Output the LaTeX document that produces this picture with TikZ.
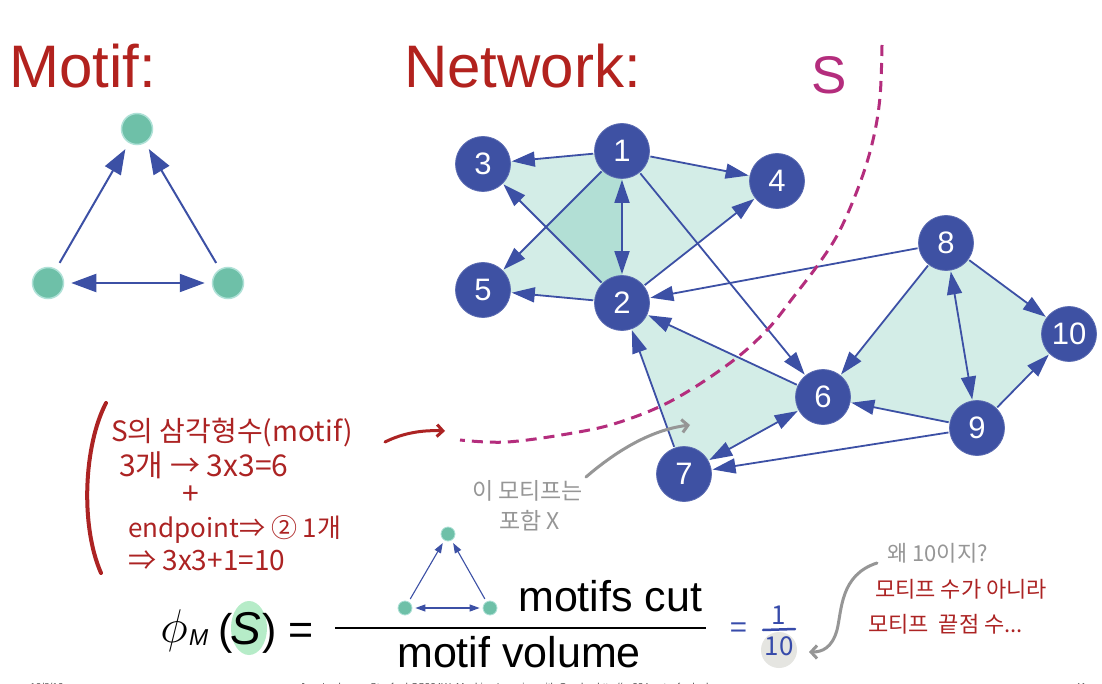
\documentclass[tikz,border=0pt]{standalone}
\usepackage{graphicx}
\usepackage{fontspec}
\setmainfont{Liberation Sans}
\newfontfamily\kr{Noto Sans CJK KR}
\usetikzlibrary{arrows.meta}
\definecolor{nodeblue}{RGB}{62,81,163}
\definecolor{edgeblue}{RGB}{60,80,165}
\definecolor{tealfill}{RGB}{82,184,161}
\definecolor{motifgreen}{RGB}{110,192,168}
\definecolor{motifrim}{RGB}{175,225,215}
\definecolor{titlered}{RGB}{178,34,30}
\definecolor{handred}{RGB}{172,35,35}
\definecolor{handgray}{RGB}{150,150,150}
\definecolor{magentaS}{RGB}{180,45,125}
\definecolor{hlgreen}{RGB}{182,236,200}
\definecolor{hlgray}{RGB}{229,229,225}
\definecolor{handblue}{RGB}{55,75,170}
\pgfdeclarelayer{background}
\pgfsetlayers{background,main}
\tikzset{
  net/.style={circle, fill=nodeblue, draw=nodeblue!85!white, line width=0.8pt, minimum size=55pt, inner sep=0pt, text=white, font=\fontsize{31}{31}\selectfont},
  edge/.style={draw=edgeblue, line width=1.8pt, -{Triangle[length=23pt,width=15pt]}, shorten >=1pt, shorten <=1pt},
  dedge/.style={draw=edgeblue, line width=1.8pt, {Triangle[length=23pt,width=15pt]}-{Triangle[length=23pt,width=15pt]}, shorten >=1pt, shorten <=1pt},
  mnode/.style={circle, fill=motifgreen, draw=motifrim, line width=1.5pt, minimum size=31pt, inner sep=0pt},
  medge/.style={draw=edgeblue, line width=2pt, -{Triangle[length=25pt,width=18pt]}, shorten >=7pt, shorten <=7pt},
  mdedge/.style={draw=edgeblue, line width=2pt, {Triangle[length=25pt,width=18pt]}-{Triangle[length=25pt,width=18pt]}, shorten >=7pt, shorten <=7pt},
  snode/.style={circle, fill=motifgreen, draw=motifrim, line width=0.8pt, minimum size=14pt, inner sep=0pt},
  sedge/.style={draw=edgeblue, line width=1.1pt, -{Triangle[length=10pt,width=7pt]}, shorten >=3pt, shorten <=3pt},
  sdedge/.style={draw=edgeblue, line width=1.1pt, {Triangle[length=10pt,width=7pt]}-{Triangle[length=10pt,width=7pt]}, shorten >=3pt, shorten <=3pt},
  title/.style={text=titlered, font=\fontsize{60}{60}\selectfont, inner sep=0pt, anchor=base west},
  hwred/.style={text=handred, font=\kr\fontsize{26}{26}\selectfont, inner sep=0pt, anchor=base west},
  hwgray/.style={text=handgray, font=\kr\fontsize{23}{23}\selectfont, inner sep=0pt, anchor=base west},
  big/.style={font=\fontsize{43}{43}\selectfont, inner sep=0pt},
  footer/.style={text=black!70, font=\fontsize{10}{10}\selectfont, inner sep=0pt, anchor=base west},
}
\begin{document}
\begin{tikzpicture}[x=1pt,y=-1pt]
\useasboundingbox (0,0) rectangle (1102,684);
\clip (0,0) rectangle (1102,684);

% titles
\node[title] (tmotif) at (9,88) {Motif:};
\node[title] (tnet) at (404,88) {Network:};
\node[text=magentaS, font=\fontsize{53}{53}\selectfont, inner sep=0pt, anchor=base west] (tS) at (811,94) {S};

% motif
\node[mnode] (ma) at (137,129) {};
\node[mnode] (mb) at (48,283) {};
\node[mnode] (mc) at (228,283) {};
\draw[medge] (mb) -- (ma);
\draw[medge] (mc) -- (ma);
\draw[mdedge] (mb) -- (mc);

% network nodes
\node[net] (n1) at (622,151) {1};
\node[net] (n2) at (622,303) {2};
\node[net] (n3) at (483,164) {3};
\node[net] (n4) at (777,181) {4};
\node[net] (n5) at (483,290) {5};
\node[net] (n6) at (823,397) {6};
\node[net] (n7) at (684,474) {7};
\node[net] (n8) at (946,243) {8};
\node[net] (n9) at (977,428) {9};
\node[net] (n10) at (1069,334) {10};

\begin{pgfonlayer}{background}
\fill[white] (0,0) rectangle (1102,684);
\foreach \a/\b/\c in {n1/n2/n3, n1/n2/n5, n1/n2/n4, n2/n6/n7, n8/n9/n6, n8/n9/n10}
  \fill[tealfill, fill opacity=0.25] (\a.center) -- (\b.center) -- (\c.center) -- cycle;
\end{pgfonlayer}

\draw[edge] (n1) -- (n3);
\draw[edge] (n1) -- (n4);
\draw[dedge] (n1) -- (n2);
\draw[edge] (n1) -- (n5);
\draw[edge] (n2) -- (n3);
\draw[edge] (n2) -- (n4);
\draw[edge] (n2) -- (n5);
\draw[edge] (n1) -- (n6);
\draw[edge] (n8) -- (n2);
\draw[edge] (n6) -- (n2);
\draw[edge] (n7) -- (n2);
\draw[dedge] (n6) -- (n7);
\draw[edge] (n9) -- (n6);
\draw[edge] (n9) -- (n7);
\draw[edge] (n8) -- (n6);
\draw[dedge] (n8) -- (n9);
\draw[edge] (n8) -- (n10);
\draw[edge] (n9) -- (n10);

% S boundary
\draw[magentaS, line width=3pt, dash pattern=on 11pt off 7pt]
  plot[smooth, tension=0.6] coordinates {(882,45) (880,97) (873,140) (860,183) (840,230) (820,262) (795,295) (767,330) (730,363) (673,400) (620,422) (573,433) (507,442) (460,440)};

% left handwritten notes
\draw[handred, line width=4pt, line cap=round] (106,403) .. controls (84,445) and (80,525) .. (101,573);
\node[hwred, font=\kr\fontsize{28}{28}\selectfont] (h1) at (111,441) {S의 삼각형수(motif)};
\node[hwred, font=\kr\fontsize{30}{30}\selectfont] (h2) at (119,476) {3개 → 3x3=6};
\node[hwred, anchor=center, font=\kr\fontsize{30}{30}\selectfont] (h3) at (191,495) {+};
\node[hwred] (h4) at (128,537) {endpoint⇒ ② 1개};
\node[hwred, font=\kr\fontsize{28}{28}\selectfont] (h5) at (128,570) {⇒ 3x3+1=10};
\coordinate (ra) at (385,442);
\coordinate (rb) at (445,431);
\draw[handred, line width=3pt, line cap=round, -{Straight Barb[length=6pt,width=12pt]}] (ra) .. controls (405,432) and (425,430) .. (rb);

% gray note near 7
\node[hwgray] (g1) at (472,499) {이 모티프는};
\node[hwgray] (g2) at (499,529) {포함 X};
\coordinate (ga) at (586,477);
\coordinate (gb) at (690,425);
\draw[handgray, line width=3pt, line cap=round, -{Straight Barb[length=6pt,width=13pt]}] (ga) .. controls (615,452) and (650,430) .. (gb);

% formula
\fill[hlgreen] (249,628) ellipse [x radius=18, y radius=27];
\node[font=\fontsize{24}{24}\selectfont, inner sep=0pt] (phi) at (174,631) {\scalebox{1.9}{$\phi$}};
\node[font=\itshape\fontsize{23}{23}\selectfont, inner sep=0pt, anchor=base west] (sub) at (189,645) {M};
\node[big, anchor=base west] (lp) at (218,644) {(};
\node[big, anchor=base west, font=\itshape\fontsize{46}{46}\selectfont] (sS) at (230,644) {S};
\node[big, anchor=base west] (rp) at (262,644) {)};
\node[big, anchor=base west] (eq) at (288,644) {=};
\draw[line width=1.8pt] (335,628) -- (706,628);
\node[big, anchor=base west] (num) at (518,611) {motifs cut};
\node[big, anchor=base west] (den) at (397,667) {motif volume};
\node[snode] (sa) at (448,534) {};
\node[snode] (sb) at (405,608) {};
\node[snode] (sc) at (490,608) {};
\draw[sedge] (sb) -- (sa);
\draw[sedge] (sc) -- (sa);
\draw[sdedge] (sb) -- (sc);

% = 1/10
\fill[hlgray] (779,650) ellipse [x radius=18, y radius=18];
\node[text=handblue, font=\kr\fontsize{30}{30}\selectfont, inner sep=0pt] (beq) at (739,631) {=};
\node[text=handblue, font=\kr\itshape\fontsize{26}{26}\selectfont, inner sep=0pt] (b1) at (779,615) {1};
\draw[handblue, line width=2.5pt, line cap=round] (763,630) -- (795,629);
\node[text=handblue, font=\kr\itshape\fontsize{26}{26}\selectfont, inner sep=0pt] (b10) at (779,646) {10};

% right notes
\node[hwgray, font=\kr\fontsize{22}{22}\selectfont] (w1) at (887,561) {왜 10이지?};
\node[hwred, font=\kr\fontsize{22}{22}\selectfont] (w2) at (875,597) {모티프 수가 아니라};
\node[hwred, font=\kr\fontsize{22}{22}\selectfont] (w3) at (868,632) {모티프~~끝점 수...};
\coordinate (wa) at (877,563);
\coordinate (wb) at (809,652);
\draw[handgray, line width=3pt, line cap=round, -{Straight Barb[length=6pt,width=13pt]}] (wa) .. controls (840,575) and (842,610) .. (837,630) .. controls (832,648) and (822,652) .. (wb);

% footer (clipped)
\node[footer] (f1) at (30,690) {10/8/19};
\node[footer] (f2) at (300,690) {Jure Leskovec, Stanford CS224W: Machine Learning with Graphs, http://cs224w.stanford.edu};
\node[footer] (f3) at (1075,690) {41};
\end{tikzpicture}
\end{document}
